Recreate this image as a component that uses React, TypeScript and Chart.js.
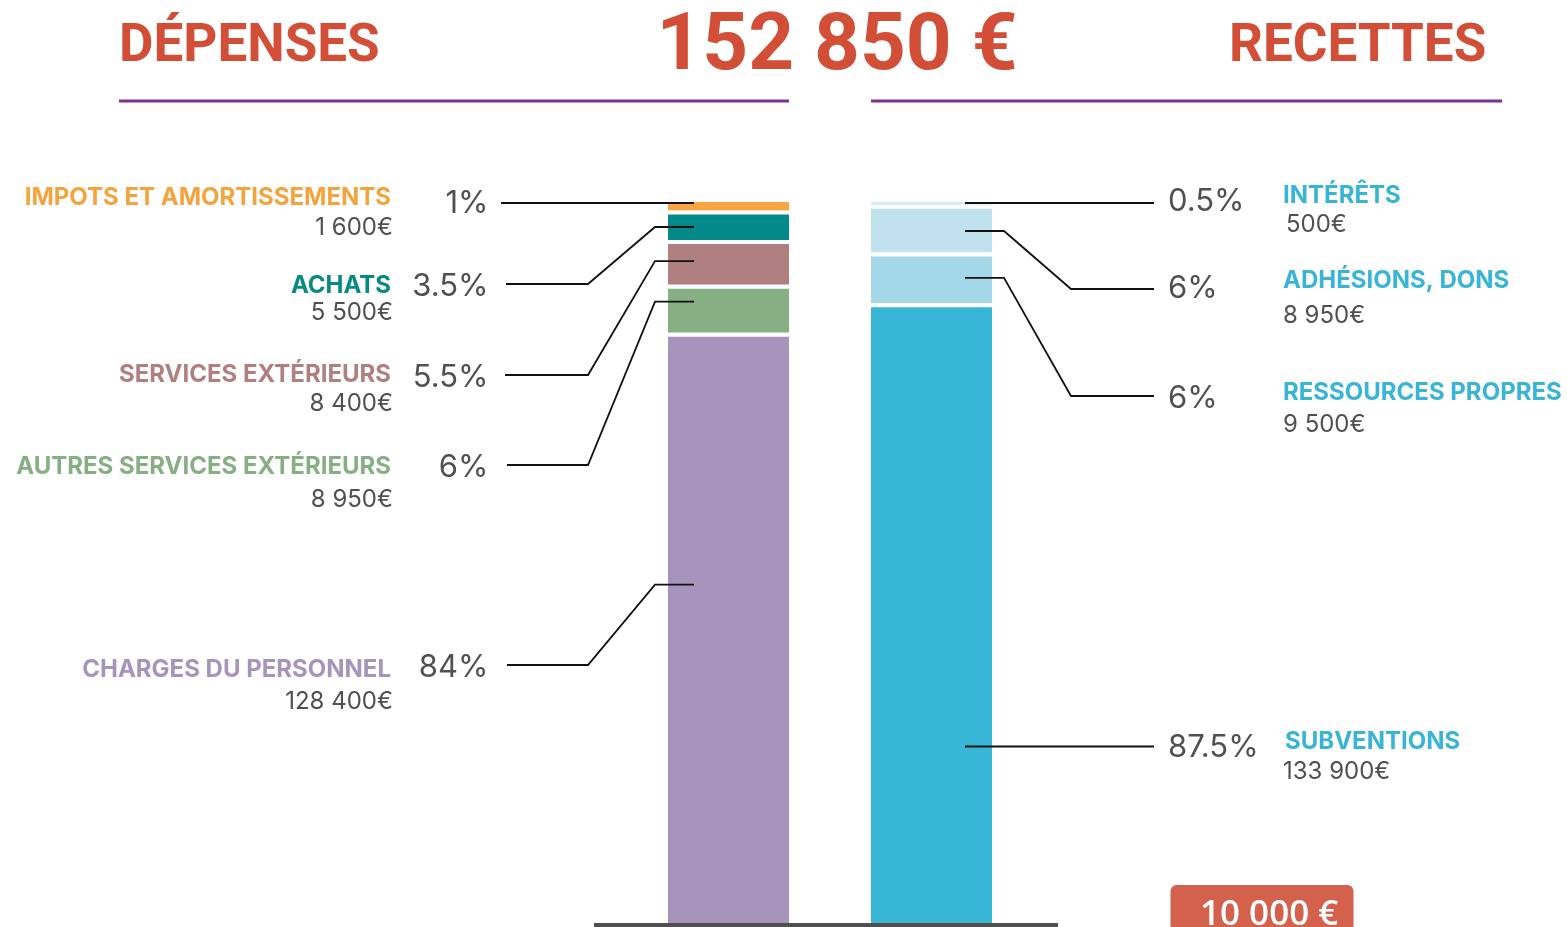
import React, { useEffect, useRef } from 'react';
import { Chart, registerables } from 'chart.js';

Chart.register(...registerables);

// ---------- data ----------
const BARS = ['DÉPENSES', 'RECETTES'];
const TOTAL_LABEL = '152 850 €';
const SCALE_LABEL = '10 000 €';

// bottom → top of each stack
const DEP_LABELS = ['CHARGES DU PERSONNEL', 'AUTRES SERVICES EXTÉRIEURS', 'SERVICES EXTÉRIEURS', 'ACHATS', 'IMPOTS ET AMORTISSEMENTS'];
const DEP_VALUES = [128400, 8950, 8400, 5500, 1600];
const DEP_PCT = ['84%', '6%', '5.5%', '3.5%', '1%'];

const REC_LABELS = ['SUBVENTIONS', 'RESSOURCES PROPRES', 'ADHÉSIONS, DONS', 'INTÉRÊTS'];
const REC_VALUES = [133900, 9500, 8950, 500];
const REC_PCT = ['87.5%', '6%', '6%', '0.5%'];

// ---------- styles ----------
const DEP_COLORS = ['#A794BC', '#86B083', '#B08080', '#04898A', '#F7A540'];
const DEP_TEXT_COLORS = ['#A794BC', '#86B083', '#B08080', '#058A84', '#F5A33C'];
const REC_COLORS = ['#37B6D6', '#A4D7E7', '#C0E2EE', '#D3ECF3'];
const REC_TEXT_COLOR = '#38B5D6';
const RED = '#D24E37';
const RULE = '#7D3290';
const GREY = '#505050';
const LEADER = '#111111';

// layout of the annotation rows (pixel rows of text), same order as data
const DEP_ROW = [665, 465, 375, 284, 203];
const DEP_LABEL_BASE = [677, 474, 382, 293, 205];
const DEP_VALUE_BASE = [709, 507, 411, 320, 235];
const DEP_PCT_BASE = [677, 477, 387, 296, 213];
const DEP_START_X = [507, 507, 505, 506, 501];
const DEP_ANCHOR_FRAC: (number | null)[] = [0.367, 0.35, 0.47, 0.56, null];

const REC_ROW = [746.5, 396, 289, 203];
const REC_LABEL_BASE = [749, 400, 288, 203];
const REC_VALUE_BASE = [779, 432, 323, 232];
const REC_PCT_BASE = [757, 408, 298, 211];
const REC_LABEL_X = [1285, 1283, 1283, 1283];
const REC_VALUE_X = [1283, 1283, 1283, 1286];
const REC_ANCHOR_FRAC: (number | null)[] = [null, 0.5, 0.55, null];

const fmt = (n: number) => String(n).replace(/\B(?=(\d{3})+(?!\d))/g, ' ') + '€';

const overlayPlugin = {
  id: 'overlay',
  afterDatasetsDraw(chart: any) {
    const ctx: CanvasRenderingContext2D = chart.ctx;
    const area = chart.chartArea;
    const nDep = DEP_VALUES.length;
    const el = (ds: number, idx: number) =>
      chart.getDatasetMeta(ds).data[idx].getProps(['x', 'y', 'base', 'width'], true);

    ctx.save();

    // ----- headers -----
    ctx.fillStyle = RED;
    ctx.textBaseline = 'alphabetic';
    ctx.font = '700 53px Roboto';
    ctx.textAlign = 'left';
    ctx.fillText(BARS[0], 119, 61);
    ctx.fillText(BARS[1], 1229, 61);
    ctx.font = '700 80px Roboto';
    ctx.textAlign = 'center';
    ctx.fillText(TOTAL_LABEL, 837, 69);

    ctx.fillStyle = RULE;
    ctx.fillRect(119, 99.5, 670, 3);
    ctx.fillRect(871, 99.5, 631, 3);

    // ----- baseline -----
    const lb = el(0, 0);
    const rb = el(nDep, 1);
    ctx.fillStyle = GREY;
    ctx.fillRect(lb.x - 134.5, area.bottom, (rb.x + 126.5) - (lb.x - 134.5), 4);

    // ----- leader lines -----
    ctx.strokeStyle = LEADER;
    ctx.lineWidth = 1.8;
    ctx.lineJoin = 'miter';

    DEP_VALUES.forEach((v, i) => {
      const b = el(i, 0);
      const left = b.x - b.width / 2;
      const frac = DEP_ANCHOR_FRAC[i];
      const ay = frac === null ? DEP_ROW[i] : b.y + frac * (b.base - b.y);
      const ry = DEP_ROW[i];
      ctx.beginPath();
      ctx.moveTo(DEP_START_X[i], ry);
      ctx.lineTo(588, ry);
      ctx.lineTo(left - 13, ay);
      ctx.lineTo(left + 26, ay);
      ctx.stroke();

      // text
      ctx.textAlign = 'right';
      ctx.fillStyle = DEP_TEXT_COLORS[i];
      ctx.font = '700 24px Inter';
      ctx.fillText(DEP_LABELS[i], 391, DEP_LABEL_BASE[i]);
      ctx.fillStyle = GREY;
      ctx.font = '400 24px Inter';
      ctx.fillText(fmt(v), 393, DEP_VALUE_BASE[i]);
      ctx.font = '400 31px Inter';
      ctx.fillText(DEP_PCT[i], 488.5, DEP_PCT_BASE[i]);
    });

    REC_VALUES.forEach((v, i) => {
      const b = el(nDep + i, 1);
      const left = b.x - b.width / 2;
      const right = b.x + b.width / 2;
      const frac = REC_ANCHOR_FRAC[i];
      const ay = frac === null ? REC_ROW[i] : b.y + frac * (b.base - b.y);
      const ry = REC_ROW[i];
      ctx.beginPath();
      ctx.moveTo(left + 94, ay);
      ctx.lineTo(right + 12, ay);
      ctx.lineTo(1071, ry);
      ctx.lineTo(1154, ry);
      ctx.stroke();

      ctx.textAlign = 'left';
      ctx.fillStyle = GREY;
      ctx.font = '400 31px Inter';
      ctx.fillText(REC_PCT[i], 1168, REC_PCT_BASE[i]);
      ctx.fillStyle = REC_TEXT_COLOR;
      ctx.font = '700 24px Inter';
      ctx.fillText(REC_LABELS[i], REC_LABEL_X[i], REC_LABEL_BASE[i]);
      ctx.fillStyle = GREY;
      ctx.font = '400 24px Inter';
      ctx.fillText(fmt(v), REC_VALUE_X[i], REC_VALUE_BASE[i]);
    });

    // ----- scale badge -----
    ctx.fillStyle = '#D4614B';
    ctx.beginPath();
    (ctx as any).roundRect(1170.5, 885, 183, 60, 6);
    ctx.fill();
    ctx.fillStyle = '#FFFFFF';
    ctx.font = '600 35px "Open Sans"';
    ctx.textAlign = 'left';
    ctx.fillText(SCALE_LABEL, 1200, 925);

    ctx.restore();
  },
};

export default function App() {
  const ref = useRef<HTMLCanvasElement | null>(null);

  useEffect(() => {
    document.body.style.margin = '0';
    let chart: Chart | null = null;
    let cancelled = false;

    const build = () => {
      if (cancelled || !ref.current) return;
      const datasets: any[] = [];
      DEP_VALUES.forEach((v, i) => {
        datasets.push({
          label: DEP_LABELS[i],
          data: [v, null],
          backgroundColor: DEP_COLORS[i],
          borderColor: '#FFFFFF',
          borderWidth: { top: i === DEP_VALUES.length - 1 ? 0 : 4, bottom: 0, left: 0, right: 0 },
          borderSkipped: false,
        });
      });
      REC_VALUES.forEach((v, i) => {
        datasets.push({
          label: REC_LABELS[i],
          data: [null, v],
          backgroundColor: REC_COLORS[i],
          borderColor: '#FFFFFF',
          borderWidth: { top: i === REC_VALUES.length - 1 ? 0 : 4, bottom: 0, left: 0, right: 0 },
          borderSkipped: false,
        });
      });

      chart = new Chart(ref.current, {
        type: 'bar',
        data: { labels: BARS, datasets },
        options: {
          responsive: false,
          animation: false,
          devicePixelRatio: 1,
          layout: { padding: { left: 627, right: 534, top: 202, bottom: 4 } },
          datasets: { bar: { barThickness: 121, clip: 0, inflateAmount: 0 } as any },
          plugins: { legend: { display: false }, tooltip: { enabled: false } },
          scales: {
            x: { display: false, stacked: true, grid: { display: false } },
            y: { display: false, stacked: true, min: 18000, max: 152850, grid: { display: false } },
          },
        },
        plugins: [overlayPlugin],
      });
    };

    const fonts = ['700 53px Roboto', '700 24px Inter', '400 24px Inter', '600 35px "Open Sans"'];
    Promise.all(fonts.map((f) => (document as any).fonts.load(f).catch(() => null)))
      .then(build, build);

    return () => {
      cancelled = true;
      if (chart) chart.destroy();
    };
  }, []);

  return (
    <div style={{ width: 1567, height: 927, background: '#FFFFFF' }}>
      <canvas ref={ref} width={1567} height={927} style={{ display: 'block' }} />
    </div>
  );
}
